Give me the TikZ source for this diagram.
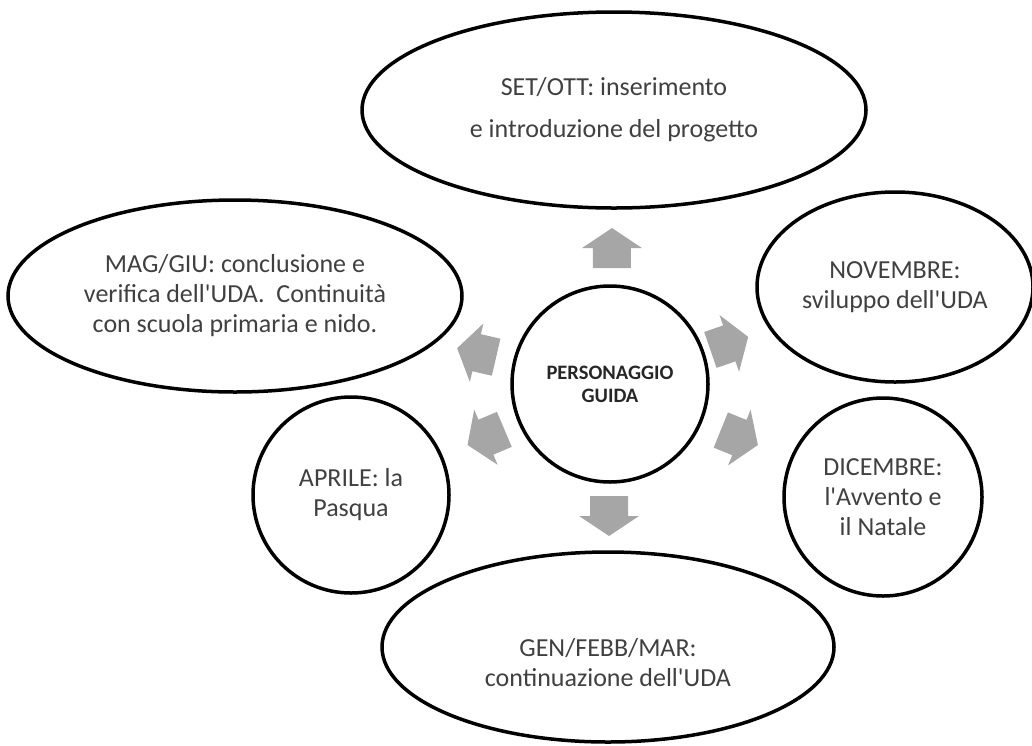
\documentclass[tikz,border=0pt]{standalone}
\usepackage{fontspec}
\setmainfont{Carlito}[Ligatures=TeXOff]
\usetikzlibrary{shapes.geometric,calc}
\definecolor{arrowgray}{RGB}{166,166,166}
\definecolor{txtgray}{RGB}{64,64,64}
\newcommand\radarrow[4]{%
  \begin{scope}[shift={($(#1)!#3pt!(#2)$)}, rotate=#4]
    \fill[blockarrow] (-20,-19) -- (0,-19) -- (0,-30) -- (20,0) -- (0,30) -- (0,19) -- (-20,19) -- cycle;
  \end{scope}}
\begin{document}
\begin{tikzpicture}[x=1pt,y=-1pt,
  shapebase/.style={draw=black, line width=3.5pt, inner sep=0pt, align=center, text=txtgray,
    font=\fontsize{26}{30}\selectfont},
  oval/.style={shapebase, ellipse},
  round/.style={shapebase, circle},
  plaintext/.style={inner sep=0pt, align=center, text=txtgray, font=\fontsize{26}{30}\selectfont},
  hub/.style={draw=black, line width=3.5pt, circle, inner sep=0pt, align=center, text=black!85,
    font=\fontsize{20.5}{23}\selectfont\bfseries, minimum size=196pt},
  blockarrow/.style={fill=arrowgray}]
\useasboundingbox (0,0) rectangle (1032,745);
\node[hub] (c) at (610,384) {PERSONAGGIO\\GUIDA};
\node[oval, minimum width=504pt, minimum height=196pt, font=\fontsize{26}{42}\selectfont] (top) at (614,110)
  {SET/OTT: inserimento\\e introduzione del progetto};
\node[oval, minimum width=454pt, minimum height=192pt] (mag) at (235,296)
  {MAG/GIU: conclusione e\\verifica dell'UDA.\ \ Continuità\\con scuola primaria e nido.};
\node[oval, minimum width=276pt, minimum height=190pt] (nov) at (895,287)
  {NOVEMBRE:\\sviluppo dell'UDA};
\node[round, minimum size=198pt] (dic) at (883,497)
  {DICEMBRE:\\l'Avvento e\\il Natale};
\node[round, minimum size=196pt] (apr) at (351,495)
  {APRILE: la\\Pasqua};
\node[oval, minimum width=452pt, minimum height=190pt] (gen) at (608,647) {};
\node[plaintext] (gentext) at ($(gen.center)+(0,16)$) {GEN/FEBB/MAR:\\continuazione dell'UDA};
\radarrow{c}{top}{136}{90}
\radarrow{c}{nov}{126}{19}
\radarrow{c}{dic}{140}{-22}
\radarrow{c}{gen}{132}{-90}
\radarrow{c}{apr}{135}{-157}
\radarrow{c}{mag}{137}{167}
\end{tikzpicture}
\end{document}
